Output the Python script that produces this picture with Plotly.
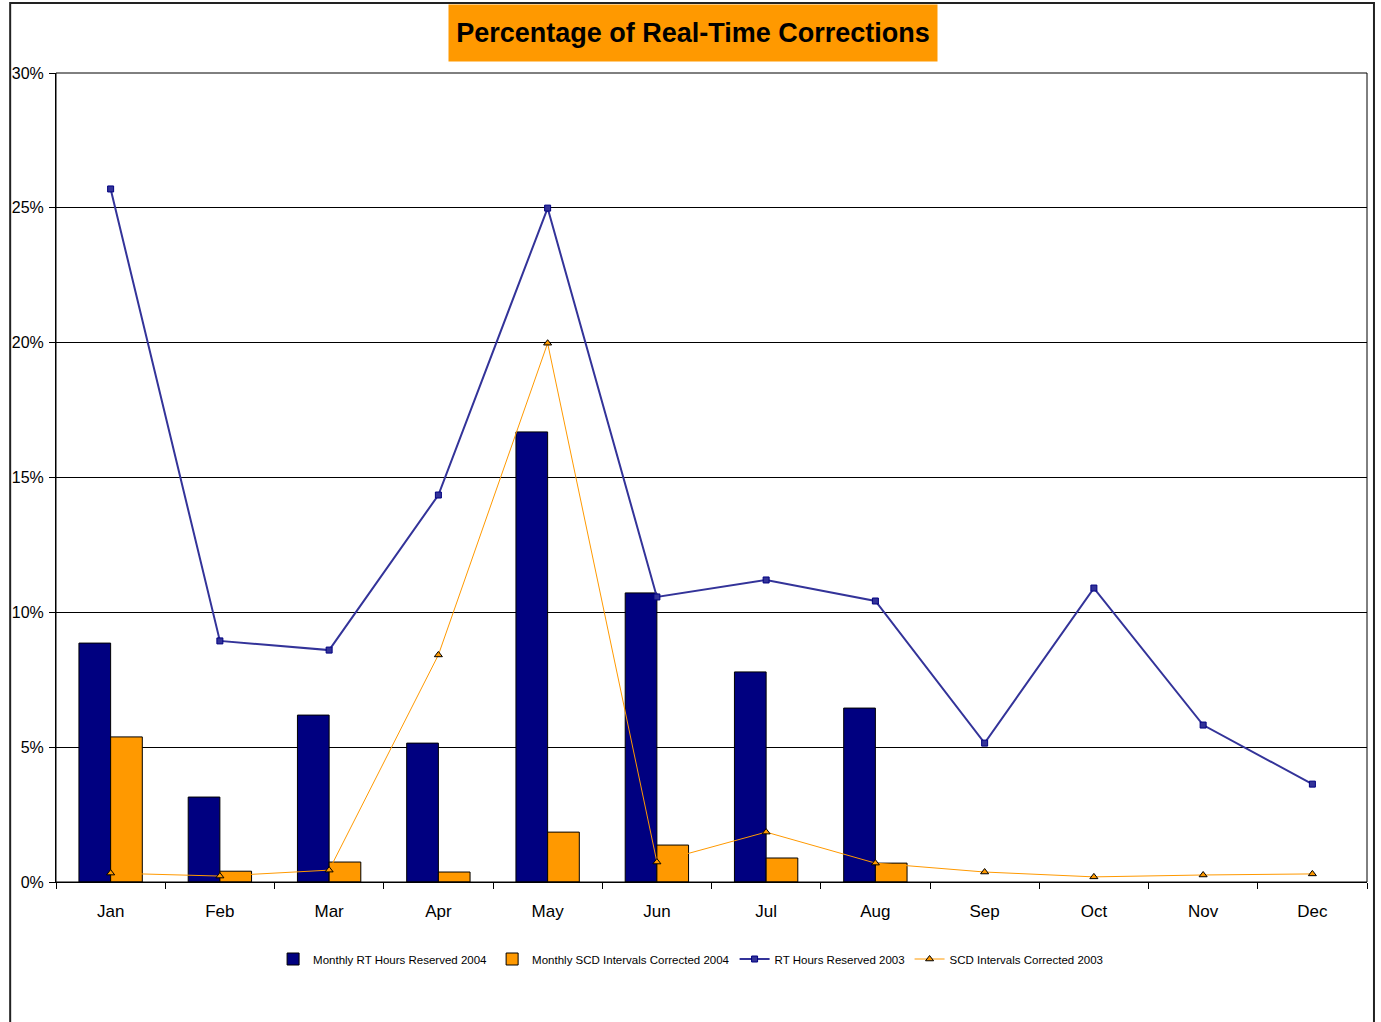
import plotly.graph_objects as go

months = ["Jan", "Feb", "Mar", "Apr", "May", "Jun", "Jul", "Aug", "Sep", "Oct", "Nov", "Dec"]
rt_2004 = [8.86, 3.15, 6.19, 5.15, 16.69, 10.72, 7.79, 6.45, None, None, None, None]
scd_2004 = [5.38, 0.40, 0.74, 0.37, 1.85, 1.37, 0.89, 0.70, None, None, None, None]
rt_2003 = [25.7, 8.94, 8.6, 14.35, 24.99, 10.57, 11.2, 10.42, 5.15, 10.9, 5.82, 3.63]
scd_2003 = [0.33, 0.22, 0.44, 8.42, 19.98, 0.74, 1.85, 0.70, 0.37, 0.19, 0.26, 0.30]
y_ticks = [0, 5, 10, 15, 20, 25, 30]
y_tick_labels = ["0%", "5%", "10%", "15%", "20%", "25%", "30%"]

SANS = "Liberation Sans, Arial, sans-serif"

fig = go.Figure()
fig.add_trace(go.Bar(x=months, y=rt_2004, name="Monthly RT Hours Reserved 2004",
                     marker=dict(color="#000080", line=dict(color="#000000", width=1))))
fig.add_trace(go.Bar(x=months, y=scd_2004, name="Monthly SCD Intervals Corrected 2004",
                     marker=dict(color="#FF9900", line=dict(color="#000000", width=1))))
fig.add_trace(go.Scatter(x=months, y=rt_2003, name="RT Hours Reserved 2003", mode="lines+markers",
                         line=dict(color="#333399", width=2),
                         marker=dict(symbol="square", size=6, color="#333399",
                                     line=dict(color="#000080", width=1))))
fig.add_trace(go.Scatter(x=months, y=scd_2003, name="SCD Intervals Corrected 2003", mode="lines+markers",
                         line=dict(color="#FF9900", width=1),
                         marker=dict(symbol="triangle-up", size=7, color="#FF9900",
                                     line=dict(color="#000000", width=1))))

L, R, T, B = 51, 14, 73, 140
PW, PH = 1381 - L - R, 1022 - T - B

fig.update_layout(
    width=1381, height=1022,
    margin=dict(l=L, r=R, t=T, b=B),
    paper_bgcolor="white", plot_bgcolor="white",
    barmode="group", bargap=0.42, bargroupgap=0,
    showlegend=True,
    legend=dict(orientation="h", x=(688 - L) / PW, xanchor="center", y=-(959 - 882) / PH, yanchor="middle",
                font=dict(family=SANS, size=11.5, color="#000"), itemwidth=30,
                tracegroupgap=0),
    xaxis=dict(type="category", tickson="boundaries", ticks="outside", ticklen=6,
               tickcolor="#000", showline=True, linecolor="#000", linewidth=1,
               tickfont=dict(family=SANS, size=17, color="#000"), range=[-0.5, 11.5],
               ticklabelstandoff=14),
    yaxis=dict(range=[0, 30], tickvals=y_ticks, ticktext=y_tick_labels, ticks="outside",
               ticklen=6, tickcolor="#000", showline=True, linecolor="#000", linewidth=1,
               showgrid=True, gridcolor="#000", gridwidth=1, zeroline=False,
               ticklabelstandoff=2,
               tickfont=dict(family=SANS, size=16, color="#000")),
    annotations=[dict(text="<b>Percentage of Real-Time Corrections</b>", xref="paper", yref="paper",
                      x=(690 - L) / PW, y=(882 - 33) / PH, xanchor="center", yanchor="middle",
                      showarrow=False, bgcolor="#FF9900", width=484, height=52, borderpad=2,
                      font=dict(family=SANS, size=27, color="#000"))],
    shapes=[
        dict(type="rect", xref="paper", yref="paper", x0=(5 - L) / PW, x1=(1374 - L) / PW,
             y0=(882 - 1040) / PH, y1=(882 - 3) / PH, line=dict(color="#222", width=2),
             fillcolor="rgba(0,0,0,0)", layer="below"),
        dict(type="rect", xref="paper", yref="paper", x0=0, x1=1, y0=0, y1=1,
             line=dict(color="#000", width=1), fillcolor="rgba(0,0,0,0)", layer="above"),
    ],
)

fig.write_html("out.html", config={"displayModeBar": False},
               post_script="document.body.style.margin='0';document.body.style.padding='0';"
                           "document.body.style.overflow='hidden';")
